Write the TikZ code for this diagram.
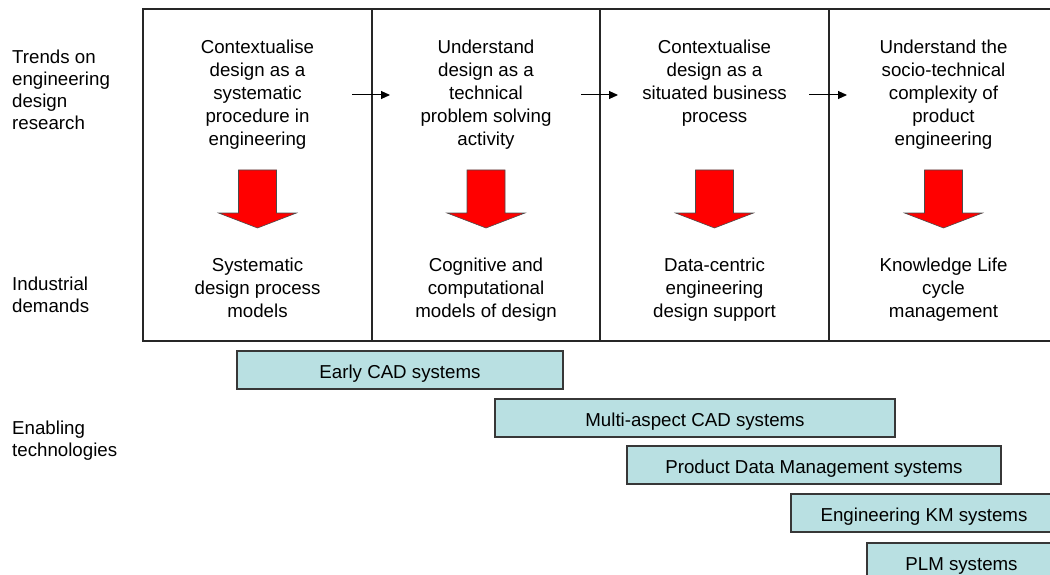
\documentclass[tikz,border=0pt]{standalone}
\usepackage{fontspec}
\setmainfont{Liberation Sans}
\usetikzlibrary{arrows.meta}
\definecolor{barfill}{RGB}{185,224,226}
\definecolor{framegray}{RGB}{55,55,55}

\begin{document}
\begin{tikzpicture}[x=1pt,y=-1pt,
  txt/.style={font=\fontsize{18.7}{23}\selectfont, align=center, inner sep=0pt, anchor=north},
  lbl/.style={font=\fontsize{18.7}{22}\selectfont, align=left, inner sep=0pt, anchor=north west},
  bar/.style={draw=framegray, line width=1.3pt, fill=barfill, minimum height=38pt,
              inner sep=0pt, text height=17pt, text depth=0pt,
              font=\fontsize{18.7}{23}\selectfont},
  frameline/.style={line width=1.5pt, draw=black!85},
  flow/.style={-{Triangle[length=9pt,width=8pt]}, line width=1pt},
  bigarrow/.style={fill=red, draw=black!70, line width=0.6pt}]

\useasboundingbox (0,0) rectangle (1050,575);
\clip (0,0) rectangle (1050,575);

% table frame with four columns, open on the right
\draw[frameline] (1060,9) -- (143,9) -- (143,341) -- (1060,341);
\foreach \xv in {372,600,829}
  \draw[frameline] (\xv,9) -- (\xv,341);

% row labels
\node[lbl] (rowtrends) at (12,50) {Trends on\\engineering\\design\\research};
\node[lbl] (rowdemands) at (12,276.5) {Industrial\\demands};
\node[lbl] (rowtech) at (12,420.5) {Enabling\\technologies};

% research trends
\node[txt] (t1) at (257.5,39.4) {Contextualise\\design as a\\systematic\\procedure in\\engineering};
\node[txt] (t2) at (486,39.4) {Understand\\design as a\\technical\\problem solving\\activity};
\node[txt] (t3) at (714.5,39.4) {Contextualise\\design as a\\situated business\\process};
\node[txt] (t4) at (943.5,39.4) {Understand the\\socio-technical\\complexity of\\product\\engineering};

% industrial demands
\node[txt] (b1) at (257.5,257.5) {Systematic\\design process\\models};
\node[txt] (b2) at (486,257.5) {Cognitive and\\computational\\models of design};
\node[txt] (b3) at (714.5,257.5) {Data-centric\\engineering\\design support};
\node[txt] (b4) at (943.5,257.5) {Knowledge Life\\cycle\\management};

% big red arrows from trend to demand
\foreach \c in {257.5,486,714.5,943.5}
  \filldraw[bigarrow] ({\c-19},170) -- ({\c+19},170) -- ({\c+19},213) -- ({\c+39},213)
    -- (\c,228) -- ({\c-39},213) -- ({\c-19},213) -- cycle;

% small arrows between trends
\coordinate (f1s) at (352,95); \coordinate (f1e) at (390,95);
\coordinate (f2s) at (581,95); \coordinate (f2e) at (618,95);
\coordinate (f3s) at (809,95); \coordinate (f3e) at (847,95);
\draw[flow] (f1s) -- (f1e);
\draw[flow] (f2s) -- (f2e);
\draw[flow] (f3s) -- (f3e);

% enabling technologies time bars
\node[bar, minimum width=326pt] (cad) at (400,370) {Early CAD systems};
\node[bar, minimum width=400pt] (multi) at (695,418) {Multi-aspect CAD systems};
\node[bar, minimum width=374pt] (pdm) at (814,465) {Product Data Management systems};
\node[bar, minimum width=266pt] (ekm) at (924,513) {Engineering KM systems};
\node[bar, minimum width=189pt] (plm) at (961.5,562) {PLM systems};
\end{tikzpicture}
\end{document}
